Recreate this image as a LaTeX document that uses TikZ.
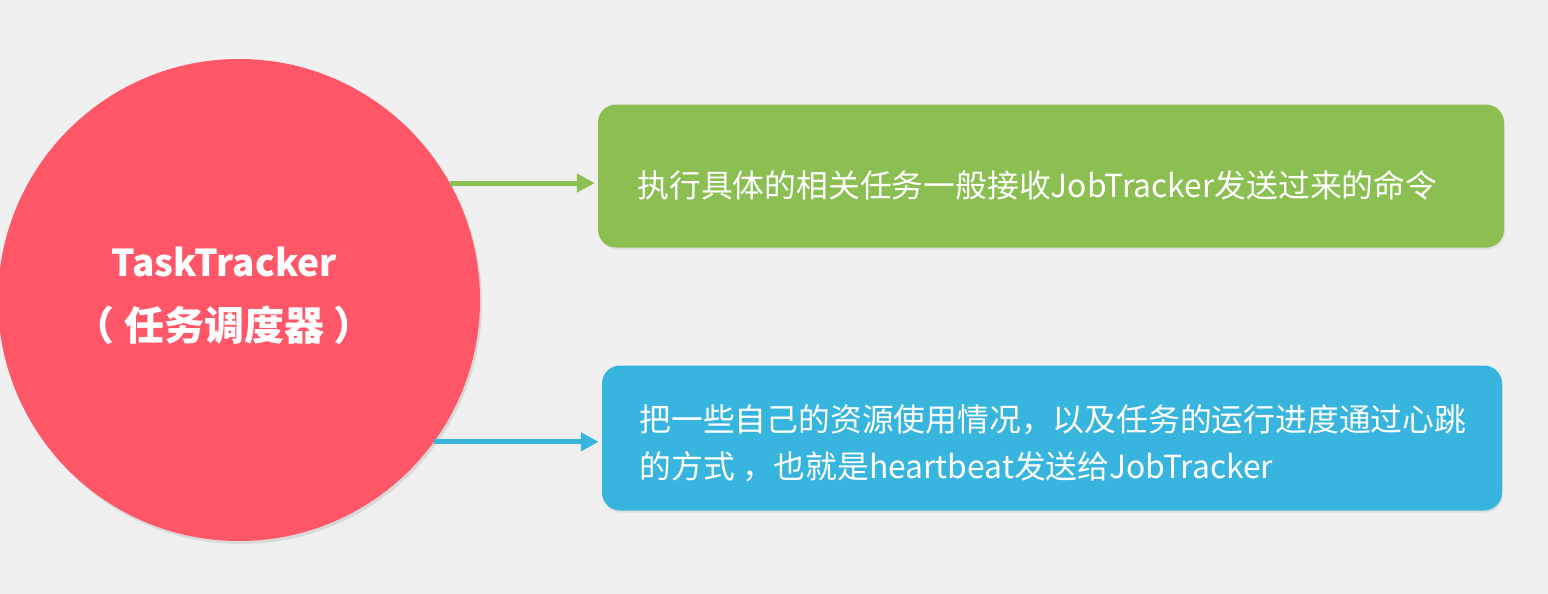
\documentclass[tikz,border=0pt]{standalone}
\usepackage{fontspec}
\setmainfont{Noto Sans CJK SC}
\usetikzlibrary{arrows.meta,shadows}
\definecolor{bgGray}{HTML}{F0F0F0}
\definecolor{ttRed}{HTML}{FF5768}
\definecolor{taskGreen}{HTML}{8CBF52}
\definecolor{beatBlue}{HTML}{38B5DE}
\begin{document}
\begin{tikzpicture}[x=1pt,y=-1pt]
        % Define styles
        \tikzset{
            tracker/.style={circle, fill=ttRed, minimum size=482pt, inner sep=0pt,
                drop shadow={opacity=0.2, shadow xshift=2pt, shadow yshift=-3pt}},
            duty/.style={rectangle, rounded corners=18pt, minimum width=906pt, inner sep=0pt,
                drop shadow={opacity=0.15, shadow xshift=1pt, shadow yshift=-2pt},
                text=white, align=left},
            arrow/.style={-{Triangle[length=18pt,width=18pt]}, line width=5pt, shorten >=3pt}
        }

        % Background
        \fill[bgGray] (0,0) rectangle (1548,594);
        \useasboundingbox (0,0) rectangle (1548,594);

        % Nodes
        \node[tracker] (task_tracker) at (239,300) {};
        \node[text=white, font=\bfseries\fontsize{37}{64}\selectfont, align=center] (tracker_text)
            at (224,296) {TaskTracker\\{\fontsize{40}{64}\selectfont（ 任务调度器 ）}};
        \node[duty, fill=taskGreen, minimum height=143pt] (duty_node_1) at (1051,176) {};
        \node[anchor=west, text=white, font=\fontsize{31.8}{38}\selectfont] (duty_text_1)
            at (634,185) {执行具体的相关任务一般接收JobTracker发送过来的命令};
        \node[duty, fill=beatBlue, minimum width=900pt, minimum height=145pt] (duty_node_2) at (1052,438) {};
        \node[anchor=west, text=white, align=left, font=\fontsize{31.8}{47}\selectfont] (duty_text_2)
            at (636,443) {把一些自己的资源使用情况，以及任务的运行进度通过心跳\\的方式 ，也就是heartbeat发送给JobTracker};

        % Arrows
        \draw[arrow, taskGreen] (task_tracker.29.3) -- (task_tracker.29.3 -| duty_node_1.west);
        \draw[arrow, beatBlue] (task_tracker.-36.1) -- (task_tracker.-36.1 -| duty_node_2.west);
    \end{tikzpicture}
\end{document}
